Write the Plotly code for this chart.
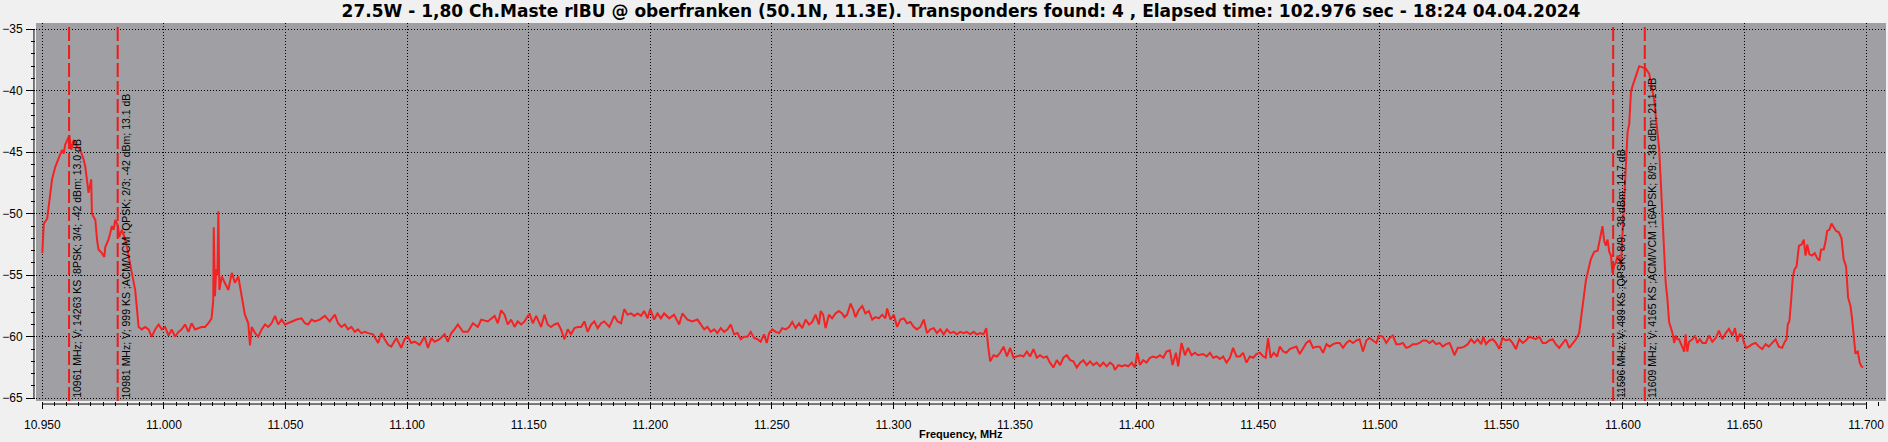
import plotly.graph_objects as go

# ---- data ----
freq = [
10.9500,10.9506,10.9520,10.9526,10.9540,10.9553,10.9567,10.9581,10.9588,10.9594,
10.9605,10.9611,10.9619,10.9629,10.9642,10.9656,10.9670,10.9677,10.9690,10.9701,
10.9704,10.9718,10.9725,10.9731,10.9745,10.9755,10.9759,10.9766,10.9772,10.9779,
10.9786,10.9793,10.9800,10.9811,10.9816,10.9827,10.9838,10.9848,10.9855,10.9868,
10.9882,10.9889,10.9896,10.9909,10.9923,10.9937,10.9950,10.9964,10.9978,10.9991,
11.0005,11.0019,11.0032,11.0046,11.0060,11.0073,11.0087,11.0101,11.0114,11.0128,
11.0142,11.0155,11.0169,11.0183,11.0196,11.0203,11.0205,11.0210,11.0215,11.0220,
11.0224,11.0228,11.0238,11.0251,11.0265,11.0279,11.0292,11.0306,11.0320,
11.0333,11.0347,11.0354,11.0361,11.0375,11.0388,11.0402,11.0416,11.0429,11.0443,
11.0457,11.0470,11.0484,11.0498,11.0511,11.0525,11.0546,11.0566,11.0580,11.0593,
11.0607,11.0621,11.0641,11.0662,11.0682,11.0703,11.0716,11.0730,11.0744,11.0757,
11.0771,11.0785,11.0798,11.0812,11.0826,11.0840,11.0860,11.0881,11.0894,11.0908,
11.0922,11.0935,11.0956,11.0976,11.0990,11.1004,11.1017,11.1031,11.1052,11.1072,
11.1086,11.1100,11.1113,11.1134,11.1154,11.1168,11.1182,11.1195,11.1209,11.1230,
11.1250,11.1271,11.1291,11.1305,11.1332,11.1360,11.1373,11.1387,11.1401,11.1414,
11.1428,11.1442,11.1455,11.1469,11.1483,11.1503,11.1517,11.1531,11.1551,11.1565,
11.1578,11.1592,11.1606,11.1620,11.1633,11.1647,11.1661,11.1674,11.1688,11.1702,
11.1716,11.1729,11.1743,11.1757,11.1770,11.1784,11.1798,11.1811,11.1832,11.1852,
11.1866,11.1880,11.1893,11.1907,11.1921,11.1934,11.1948,11.1962,11.1975,11.1989,
11.2000,11.2016,11.2030,11.2044,11.2057,11.2078,11.2098,11.2119,11.2132,11.2153,
11.2173,11.2194,
11.2208,11.2222,11.2235,11.2249,11.2263,11.2276,11.2290,11.2304,11.2318,11.2331,
11.2345,11.2359,11.2372,11.2386,11.2400,11.2413,11.2427,11.2441,11.2454,11.2468,
11.2479,11.2489,11.2502,11.2516,11.2530,11.2543,11.2557,11.2571,11.2584,11.2598,
11.2612,11.2625,11.2639,11.2653,11.2666,11.2680,11.2694,11.2701,11.2711,11.2721,
11.2735,11.2748,11.2762,11.2776,11.2789,11.2799,11.2810,11.2824,11.2835,11.2844,
11.2858,11.2872,11.2885,11.2899,11.2913,11.2926,11.2940,11.2954,11.2967,11.2974,
11.2988,11.3002,11.3015,11.3029,11.3043,11.3056,11.3070,11.3084,11.3097,11.3111,
11.3125,11.3138,11.3152,11.3166,11.3179,11.3193,11.3207,11.3220,11.3234,11.3248,
11.3261,11.3275,11.3289,11.3302,11.3316,11.3330,11.3343,11.3357,11.3371,11.3382,
11.3390,11.3398,11.3412,11.3426,11.3439,11.3453,11.3467,11.3480,11.3494,11.3508,
11.3521,11.3535,11.3549,11.3562,11.3576,11.3590,11.3603,11.3617,11.3631,11.3644,
11.3658,11.3672,11.3686,11.3699,11.3713,11.3727,11.3740,11.3754,11.3768,11.3781,
11.3795,11.3809,11.3822,11.3836,11.3850,11.3863,11.3877,11.3891,11.3904,11.3911,
11.3925,11.3939,11.3952,11.3966,11.3980,11.3993,11.4003,11.4014,11.4027,11.4041,
11.4055,11.4068,11.4082,11.4096,11.4110,11.4123,11.4137,11.4148,11.4162,11.4171,
11.4185,11.4199,11.4212,11.4226,11.4240,11.4253,
11.4274,11.4288,11.4302,11.4315,11.4329,11.4343,11.4356,11.4370,11.4384,11.4397,
11.4411,11.4425,11.4438,11.4452,11.4466,11.4480,11.4493,11.4507,11.4521,11.4531,
11.4541,11.4551,11.4564,11.4578,11.4589,11.4603,11.4616,11.4630,11.4644,11.4657,
11.4671,11.4685,11.4698,11.4712,11.4726,11.4739,11.4753,11.4767,11.4781,11.4794,
11.4808,11.4822,11.4835,11.4849,11.4863,11.4876,11.4890,11.4904,11.4917,11.4931,
11.4945,11.4958,11.4972,11.4986,11.4997,11.5013,11.5027,11.5041,11.5054,11.5068,
11.5082,11.5095,11.5109,11.5123,11.5136,11.5150,11.5164,11.5177,11.5191,11.5205,
11.5218,11.5232,11.5246,11.5259,11.5273,11.5287,11.5298,11.5307,11.5321,11.5334,
11.5348,11.5362,11.5376,11.5389,11.5403,11.5417,11.5426,11.5437,11.5451,11.5465,
11.5478,11.5492,11.5505,11.5519,11.5533,11.5546,11.5560,11.5574,11.5588,11.5601,
11.5615,11.5629,11.5642,11.5656,11.5670,11.5683,11.5697,11.5711,11.5724,11.5738,
11.5752,11.5765,11.5779,11.5793,11.5807,11.5820,11.5834,11.5848,
11.5868,11.5882,11.5896,11.5903,11.5910,11.5916,11.5923,11.5930,11.5937,11.5944,
11.5951,11.5957,11.5964,11.5971,11.5978,11.5985,11.5992,11.5998,11.6005,11.6012,
11.6019,11.6026,11.6033,11.6040,11.6046,11.6053,11.6060,11.6067,11.6081,11.6094,
11.6108,11.6122,11.6128,11.6135,11.6149,11.6156,11.6163,11.6170,11.6176,11.6183,
11.6190,
11.6204,11.6211,11.6217,11.6224,11.6231,11.6238,11.6245,11.6252,11.6258,11.6265,
11.6272,11.6286,11.6297,11.6306,11.6316,11.6327,11.6341,11.6354,11.6368,11.6382,
11.6395,11.6409,11.6423,11.6436,11.6450,11.6461,11.6470,11.6480,11.6491,11.6498,
11.6507,11.6518,11.6532,11.6546,11.6559,11.6573,11.6587,11.6600,11.6614,11.6628,
11.6641,11.6655,11.6666,11.6673,11.6678,11.6685,11.6692,11.6699,11.6706,11.6714,
11.6724,11.6735,11.6744,11.6751,11.6758,11.6767,11.6778,11.6789,11.6799,11.6808,
11.6815,11.6826,11.6833,11.6840,11.6849,11.6858,11.6867,11.6877,11.6888,11.6899,
11.6908,11.6918,11.6926,11.6936,11.6943,11.6949,11.6956,11.6966,11.6974,11.6981,
11.6988,
]

level_dbm = [
-53.2,-50.8,-50.4,-49.4,-47.2,-46.2,-45.5,-44.8,-45.1,-44.4,
-43.9,-43.6,-44.8,-44.0,-44.5,-44.8,-45.6,-46.2,-48.3,-47.2,
-50.0,-50.5,-52.1,-52.9,-53.2,-53.5,-52.7,-52.4,-52.1,-51.6,
-51.0,-51.3,-50.5,-51.0,-51.9,-51.3,-51.9,-52.7,-53.5,-54.8,
-56.2,-57.5,-59.2,-59.4,-59.2,-59.4,-60.0,-59.4,-59.0,-59.4,
-59.2,-59.9,-59.4,-60.0,-59.6,-59.4,-59.0,-59.6,-58.9,-59.4,
-59.3,-59.2,-59.2,-58.9,-58.5,-57.0,-51.1,-56.7,-54.5,-55.0,
-49.8,-56.2,-55.1,-55.6,-56.2,-54.8,-55.6,-55.1,-56.6,
-58.2,-58.9,-60.7,-59.2,-59.7,-60.0,-59.4,-59.0,-59.2,-58.9,
-58.3,-59.0,-58.6,-59.0,-58.9,-58.75,-58.6,-58.5,-58.9,-59.0,
-58.6,-58.75,-58.6,-58.3,-58.75,-58.2,-58.9,-59.2,-59.0,-59.4,
-59.2,-59.6,-59.4,-59.7,-59.6,-59.7,-59.8,-60.5,-59.7,-60.2,
-60.65,-60.8,-60.1,-60.9,-60.2,-60.0,-60.5,-60.4,-60.65,-60.0,
-60.9,-60.1,-60.4,-60.2,-59.8,-60.4,-59.7,-59.4,-59.0,-59.6,
-59.6,-58.9,-59.2,-58.6,-58.75,-58.3,-58.9,-57.85,-58.2,-59.0,
-58.6,-59.2,-58.75,-59.0,-58.75,-58.1,-58.9,-58.3,-59.2,-58.2,
-59.0,-59.2,-59.0,-58.9,-59.4,-60.2,-59.4,-59.8,-59.3,-59.2,
-59.2,-58.75,-59.6,-59.0,-58.75,-59.3,-58.9,-58.75,-59.2,-58.3,
-58.75,-58.9,-57.75,-58.2,-58.1,-58.3,-58.1,-58.3,-57.9,-58.5,
-57.75,-58.6,-58.1,-58.5,-58.1,-58.5,-58.2,-59.0,-58.1,-58.6,
-58.75,-58.6,
-59.0,-59.4,-59.2,-59.6,-59.4,-59.7,-59.3,-59.6,-59.4,-59.0,
-59.8,-59.7,-60.2,-60.0,-60.0,-59.6,-60.1,-60.2,-60.4,-59.8,
-60.5,-59.7,-59.4,-59.6,-59.7,-59.3,-59.4,-59.2,-58.8,-59.3,
-58.9,-59.3,-58.6,-59.0,-58.8,-58.2,-59.0,-57.9,-58.2,-59.3,
-58.2,-58.5,-58.1,-57.9,-58.1,-58.4,-58.2,-57.3,-57.8,-58.4,
-57.8,-57.5,-58.1,-57.9,-58.6,-58.4,-58.5,-58.2,-58.5,-57.7,
-58.6,-58.2,-59.2,-58.6,-58.5,-58.9,-58.8,-59.2,-59.4,-59.2,
-58.6,-59.7,-59.4,-59.3,-59.7,-59.4,-59.8,-59.4,-59.7,-59.6,
-59.8,-59.6,-59.7,-59.6,-59.8,-59.6,-59.8,-59.7,-59.8,-59.3,
-60.8,-62.0,-61.5,-61.6,-61.3,-60.8,-61.6,-60.9,-61.7,-61.6,
-61.5,-61.6,-61.2,-61.6,-61.0,-61.7,-61.5,-61.7,-61.6,-62.1,
-62.5,-61.9,-62.3,-61.7,-61.5,-61.9,-62.0,-62.5,-62.1,-61.9,
-62.3,-62.0,-62.3,-62.1,-62.4,-62.1,-62.4,-62.1,-62.3,-62.7,
-62.3,-62.4,-62.3,-62.4,-62.1,-62.5,-61.3,-62.3,-61.9,-62.1,
-61.7,-61.6,-61.7,-61.5,-61.7,-61.2,-61.1,-62.3,-61.3,-62.4,
-60.5,-61.5,-60.9,-61.5,-61.3,-61.5,
-61.4,-61.6,-61.3,-61.7,-61.6,-61.8,-61.6,-62.1,-61.7,-60.9,
-61.6,-61.6,-61.3,-62.1,-61.6,-61.7,-61.4,-61.3,-61.6,-61.7,
-60.1,-61.7,-61.3,-61.6,-60.8,-61.2,-61.3,-61.0,-60.9,-60.8,
-61.4,-60.9,-60.5,-60.3,-60.9,-60.8,-60.8,-61.3,-60.6,-60.8,
-60.6,-60.5,-60.5,-60.9,-60.5,-60.3,-60.5,-60.3,-60.2,-61.2,
-60.3,-60.1,-60.3,-60.5,-59.9,-60.0,-60.5,-60.1,-59.9,-60.6,
-60.6,-60.5,-60.9,-60.8,-60.6,-60.6,-60.5,-60.3,-60.3,-60.5,
-60.3,-60.6,-60.5,-60.8,-60.6,-60.5,-61.0,-61.5,-60.9,-60.9,
-60.8,-60.6,-60.2,-60.5,-60.2,-60.6,-60.0,-60.6,-60.3,-60.2,
-60.5,-61.0,-60.1,-60.3,-60.2,-60.5,-61.0,-60.2,-60.5,-60.3,
-60.0,-60.1,-60.2,-60.0,-60.5,-60.5,-60.3,-60.2,-60.6,-60.9,
-60.5,-60.2,-60.9,-60.5,-60.2,-59.7,-57.3,-55.4,
-53.7,-53.1,-53.0,-52.3,-51.8,-51.0,-52.2,-52.6,-52.1,-53.1,
-53.4,-54.8,-54.2,-54.0,-53.4,-53.6,-54.2,-51.8,-49.3,-46.1,
-43.4,-42.7,-40.1,-39.6,-39.2,-38.8,-38.4,-38.0,-38.1,-38.2,
-38.6,-40.1,-40.7,-42.0,-44.7,-47.5,-50.7,-54.0,-55.6,-56.9,
-58.8,
-59.7,-60.5,-59.9,-60.2,-60.2,-60.5,-60.8,-61.2,-59.8,-61.2,
-60.4,-60.2,-59.9,-60.5,-60.2,-60.5,-60.5,-59.9,-60.4,-60.1,
-59.5,-60.2,-59.7,-59.35,-59.9,-59.3,-60.4,-59.8,-59.9,-60.5,
-60.9,-60.8,-60.6,-60.5,-60.8,-61.0,-60.6,-60.8,-60.5,-60.2,
-60.8,-60.9,-60.4,-60.2,-59.0,-58.7,-57.0,-55.1,-54.5,-54.3,
-52.6,-52.5,-52.1,-53.4,-52.5,-53.3,-53.4,-53.2,-53.6,-53.8,
-52.9,-52.9,-52.3,-51.4,-51.3,-50.8,-51.1,-51.4,-51.5,-52.0,
-53.7,-54.3,-56.8,-57.5,-58.6,-59.7,-61.3,-61.2,-62.1,-62.4,
-62.5,
]

tp_freq = [10.961, 10.981, 11.596, 11.609]
tp_label = [
    "10961 MHz; V; 14263 KS ;8PSK; 3/4; -42 dBm; 13.0 dB",
    "10981 MHz; V; 999 KS ;ACM/VCM ;QPSK; 2/3; -42 dBm; 13.1 dB",
    "11596 MHz; V; 499 KS ;QPSK; 8/9; -38 dBm; 14.7 dB",
    "11609 MHz; V; 4165 KS ;ACM/VCM ;16APSK; 8/9; -38 dBm; 21.1 dB",
]

x_ticks = [10.95, 11.00, 11.05, 11.10, 11.15, 11.20, 11.25, 11.30, 11.35,
           11.40, 11.45, 11.50, 11.55, 11.60, 11.65, 11.70]
y_ticks = [-35, -40, -45, -50, -55, -60, -65]

title_text = ("27.5W - 1,80 Ch.Maste rIBU @ oberfranken (50.1N, 11.3E). "
              "Transponders found: 4 , Elapsed time: 102.976 sec - 18:24 04.04.2024")

FONT = "Liberation Sans"

fig = go.Figure()
fig.add_trace(go.Scatter(
    x=freq, y=level_dbm, mode="lines",
    line=dict(color="#f42222", width=2),
    hoverinfo="x+y", showlegend=False,
))

shapes = []
annotations = []
for f, lab in zip(tp_freq, tp_label):
    shapes.append(dict(type="line", xref="x", yref="paper", x0=f, x1=f, y0=0, y1=1,
                       line=dict(color="#ee1c1c", width=2, dash="14px,4px"), layer="above"))
    annotations.append(dict(x=f, y=y_ticks[-1], xref="x", yref="y", text=lab,
                            textangle=-90, xanchor="left", yanchor="bottom",
                            xshift=1, yshift=-1, showarrow=False, borderpad=0,
                            font=dict(family=FONT, size=10.5, color="#000000")))

# axis lines spanning the scale range
shapes.append(dict(type="line", xref="paper", yref="y", x0=-0.0011, x1=-0.0011,
                   y0=y_ticks[-1], y1=y_ticks[0], line=dict(color="black", width=1)))
shapes.append(dict(type="line", xref="x", yref="paper", x0=x_ticks[0], x1=x_ticks[-1],
                   y0=-0.008, y1=-0.008, line=dict(color="black", width=1)))

annotations.append(dict(x=0.5, y=-0.066, xref="paper", yref="paper",
                        text="<b>Frequency, MHz</b>", showarrow=False,
                        xanchor="center", yanchor="top",
                        font=dict(family=FONT, size=11, color="#000000")))

fig.update_layout(
    width=1888, height=442,
    margin=dict(l=34, r=2, t=23, b=41),
    paper_bgcolor="#f0f0f0",
    plot_bgcolor="#a0a0a4",
    title=dict(text="<b>" + title_text + "</b>", x=0.5, xref="paper",
               y=1 - 11.5 / 442, yref="container", yanchor="middle", xanchor="center",
               font=dict(family="DejaVu Sans", size=17, color="#000000")),
    shapes=shapes,
    annotations=annotations,
    font=dict(family=FONT, size=12, color="#000000"),
)

fig.update_xaxes(
    range=[10.9474, 11.7082],
    tickvals=x_ticks, tickformat=".3f",
    ticks="outside", ticklen=7, tickcolor="black", tickwidth=1,
    ticklabelstandoff=6,
    minor=dict(dtick=0.005, tick0=10.95, ticks="outside", ticklen=4,
               tickcolor="black", showgrid=False),
    showgrid=True, gridcolor="#000000", griddash="1px,2px", gridwidth=1,
    zeroline=False, showline=False,
    tickfont=dict(family=FONT, size=12, color="#000000"),
)
fig.update_yaxes(
    range=[-65.22, -34.49],
    tickvals=y_ticks,
    ticks="outside", ticklen=9, tickcolor="black", tickwidth=1,
    ticklabelstandoff=1,
    minor=dict(dtick=1, tick0=-65, ticks="outside", ticklen=4,
               tickcolor="black", showgrid=False),
    showgrid=True, gridcolor="#000000", griddash="1px,2px", gridwidth=1,
    zeroline=False, showline=False,
    tickfont=dict(family=FONT, size=12, color="#000000"),
)

fig.write_html("out.html", config={"displayModeBar": False},
               post_script="document.body.style.margin='0';document.body.style.overflow='hidden';")
